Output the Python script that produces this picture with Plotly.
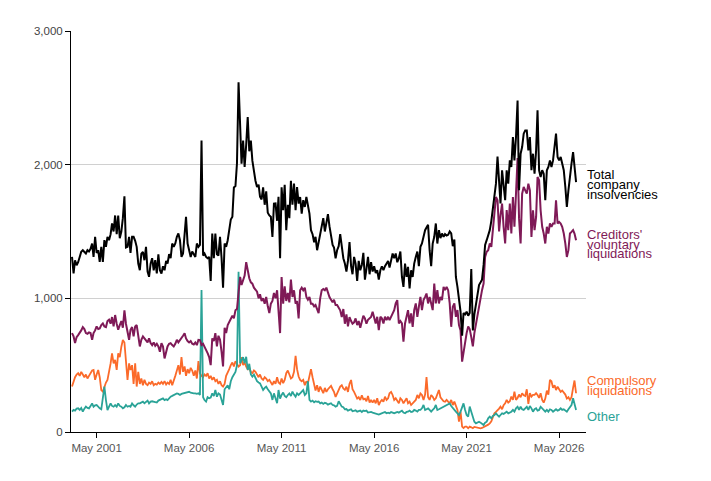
import pandas as pd
import plotly.graph_objects as go

# Monthly observations (categories)
months = pd.date_range("2000-01-01", periods=328, freq="MS")

total = [
    1310, 1186, 1285, 1248, 1270, 1310, 1348, 1360, 1348, 1335, 1360, 1350,
    1370, 1410, 1310, 1460, 1340, 1360, 1273, 1385, 1273, 1435, 1385, 1460,
    1435, 1480, 1560, 1500, 1620, 1480, 1620, 1450, 1500, 1600, 1763, 1380,
    1385, 1460, 1340, 1460, 1460, 1430, 1385, 1260, 1210, 1335, 1348, 1285,
    1385, 1200, 1161, 1260, 1300, 1210, 1285, 1186, 1330, 1210, 1186, 1240,
    1210, 1280, 1260, 1330, 1300, 1410, 1385, 1410, 1460, 1485, 1435, 1310,
    1335, 1460, 1610, 1410, 1360, 1310, 1350, 1330, 1310, 1410, 1385, 1400,
    2180, 1320, 1335, 1310, 1300, 1310, 1130, 1485, 1300, 1485, 1330, 1320,
    1460, 1300, 1080, 1410, 1385, 1435, 1510, 1590, 1610, 1830, 1840, 2010,
    2617, 2207, 2007, 2180, 1983, 2150, 2356, 2100, 2180, 2030, 1933, 1880,
    1833, 1850, 1760, 1740, 1830, 1700, 1800, 1640, 1620, 1610, 1460, 1709,
    1710, 1580, 1760, 1300, 1830, 1660, 1850, 1510, 1700, 1600, 1880, 1700,
    1858, 1659, 1833, 1709, 1758, 1634, 1734, 1684, 1758, 1709, 1634, 1510,
    1480, 1420, 1460, 1360, 1420, 1480, 1520, 1600, 1500, 1560, 1630, 1540,
    1470, 1400, 1380, 1300, 1360, 1390, 1480, 1380, 1300, 1260, 1200, 1280,
    1420, 1240, 1180, 1310, 1260, 1130, 1280, 1210, 1250, 1340, 1140, 1220,
    1310, 1180, 1270, 1200, 1240, 1190, 1210, 1140, 1210, 1240, 1210, 1240,
    1260, 1280, 1230, 1290, 1335, 1300, 1335, 1270, 1300, 1350, 1160, 1085,
    1260, 1160, 1235, 1075, 1210, 1160, 1260, 1310, 1350, 1240, 1385, 1410,
    1460, 1510, 1530, 1550, 1360, 1240, 1410, 1460, 1560, 1410, 1510, 1450,
    1485, 1460, 1480, 1470, 1475, 1500, 1485, 1390, 1440, 1160, 1085, 990,
    900, 720, 890, 880, 900, 870, 890, 1220, 760, 880, 950, 1020,
    1100, 1120, 1140, 1250, 1400, 1435, 1480, 1510, 1580, 1659, 1760, 1858,
    2060, 1883, 1709, 1958, 1833, 1734, 1958, 1858, 2032, 1983, 2207, 2032,
    2207, 2480, 1808, 2082, 2132, 2232, 2256, 2256, 2107, 2207, 1958, 2082,
    1933, 2107, 2406, 1958, 1908, 1958, 1933, 1734, 1958, 1983, 2032, 1983,
    2032, 2132, 2232, 2057, 2032, 2057, 2007, 1958, 1833, 1684, 1808, 1933,
    2007, 2094, 1958, 1870,
]

creditors_voluntary = [
    740, 715, 665, 710, 725, 740, 760, 785, 770, 740, 735, 745,
    740, 690, 740, 760, 790, 770, 775, 800, 812, 790, 785, 830,
    840, 810, 860, 790, 875, 810, 765, 800, 830, 780, 910, 810,
    740, 690, 765, 785, 715, 790, 800, 715, 640, 690, 715, 700,
    680, 670, 700, 665, 650, 670, 645, 660, 640, 600, 665, 640,
    550, 610, 640, 660, 665, 650, 640, 660, 690, 670, 690, 700,
    720, 738, 700, 680, 670, 680, 660, 655, 670, 650, 690, 688,
    650, 660, 640, 610, 590, 560, 500, 700, 680, 740, 640, 720,
    690, 600, 490, 780, 740, 800, 820, 840, 870, 850, 910, 920,
    1070, 1160, 1100, 1130, 1170, 1270, 1200, 1150, 1120, 1110, 1080, 1060,
    1050, 1000, 1030, 980, 1000, 960, 1010, 940, 890, 960, 980, 1040,
    1000, 1060, 910, 740, 1160, 960, 1090, 980, 1040, 970, 1140, 1010,
    1060, 960, 980, 850, 1060, 1080, 1060, 1080, 1010, 990, 1010, 960,
    960, 940, 950, 910, 890, 1000, 1060, 1070, 1060, 1080, 1040, 1010,
    990, 970, 990, 950, 950, 930, 910, 860, 920, 810, 880, 790,
    860, 830, 810, 820, 850, 800, 830, 780, 830, 870, 850, 810,
    840, 850, 860, 900, 862, 812, 862, 763, 862, 850, 812, 862,
    837, 862, 837, 862, 887, 912, 962, 987, 812, 830, 812, 675,
    812, 862, 912, 812, 887, 787, 912, 962, 862, 937, 1011, 912,
    987, 1011, 1036, 962, 1011, 962, 912, 1111, 962, 1061, 962, 1011,
    987, 1086, 1061, 1086, 1061, 962, 787, 937, 962, 862, 912, 800,
    760, 526, 600, 660, 740, 790, 770, 710, 640, 740, 810, 890,
    960, 1011, 1061, 1111, 1310, 1348, 1360, 1410, 1385, 1510, 1659, 1758,
    1734, 1500, 1620, 1709, 1535, 1410, 1660, 1510, 1709, 1485, 1758, 1535,
    1783, 2050, 1600, 1410, 1783, 1833, 1808, 1783, 1858, 1808, 1460, 1659,
    1510, 1609, 1908, 1883, 1659, 1535, 1485, 1410, 1535, 1485, 1560, 1535,
    1560, 1560, 1734, 1560, 1572, 1560, 1535, 1485, 1410, 1310, 1360, 1485,
    1497, 1510, 1485, 1435,
]

compulsory = [
    340, 380, 410, 430, 440, 420, 450, 430, 410, 430, 400, 420,
    440, 460, 464, 390, 430, 464, 410, 314, 302, 340, 370, 390,
    440, 513, 588, 513, 540, 464, 588, 560, 638, 688, 670, 513,
    389, 513, 464, 500, 360, 513, 340, 450, 360, 400, 350, 390,
    360, 350, 370, 360, 380, 350, 360, 355, 370, 360, 375, 360,
    380, 355, 370, 360, 390, 350, 380, 420, 460, 500, 430, 560,
    450, 490, 420, 470, 440, 480, 460, 420, 460, 400, 530, 440,
    420, 410, 430, 420, 440, 400, 420, 390, 410, 380, 390, 360,
    380, 350, 340, 360, 420, 440, 470, 500, 520, 490, 530, 510,
    490, 500, 560, 500, 520, 490, 470, 480, 450, 440, 460, 450,
    430, 410, 430, 400, 390, 410, 400, 380, 390, 370, 352, 380,
    360, 410, 370, 360, 400, 365, 390, 440, 460, 430, 400, 410,
    450, 570, 470, 415, 390, 380, 390, 350, 380, 365, 420, 470,
    410, 340, 310, 350, 300, 340, 315, 290, 330, 300, 320, 330,
    345, 320, 300, 262, 285, 314, 340, 350, 325, 315, 339, 300,
    360, 389, 320, 300, 270, 250, 260, 240, 275, 245, 250, 230,
    270, 220, 240, 220, 240, 215, 252, 202, 227, 240, 227, 264,
    240, 252, 290, 300, 277, 240, 252, 227, 215, 252, 240, 215,
    240, 252, 215, 227, 202, 215, 227, 240, 277, 252, 289, 277,
    240, 280, 411, 260, 240, 277, 264, 240, 252, 290, 314, 260,
    240, 230, 227, 240, 227, 215, 240, 202, 227, 190, 165, 77,
    152, 40, 30, 40, 40, 28, 40, 35, 28, 38, 35, 30,
    30, 28, 30, 35, 40, 45, 55, 65, 80, 110, 140, 150,
    160, 175, 190, 170, 200, 215, 240, 220, 230, 265, 240, 302,
    240, 255, 280, 260, 290, 275, 270, 320, 210, 290, 265, 277,
    277, 290, 277, 255, 290, 240, 220, 250, 310, 280, 390, 380,
    330, 350, 314, 339, 320, 300, 310, 295, 280, 250, 260, 240,
    260, 330, 385, 290,
]

other = [
    152, 165, 160, 175, 177, 165, 180, 152, 175, 190, 180, 177,
    195, 214, 189, 200, 202, 185, 177, 170, 250, 339, 239, 164,
    190, 214, 195, 189, 202, 190, 214, 195, 189, 177, 185, 202,
    189, 195, 189, 214, 200, 189, 205, 214, 214, 220, 227, 215,
    227, 235, 214, 227, 230, 227, 227, 220, 235, 239, 245, 252,
    239, 245, 239, 255, 264, 270, 277, 280, 289, 285, 277, 285,
    289, 292, 294, 296, 301, 294, 289, 289, 289, 285, 289, 277,
    1062, 260, 239, 227, 260, 252, 258, 289, 270, 314, 264, 289,
    280, 239, 202, 320, 339, 350, 320, 380, 410, 430, 450, 500,
    1199, 514, 538, 560, 514, 563, 464, 510, 430, 414, 430, 400,
    380, 370, 364, 339, 314, 330, 339, 320, 300, 289, 240, 289,
    252, 215, 314, 250, 277, 295, 270, 260, 277, 289, 270, 302,
    280, 264, 289, 277, 289, 300, 314, 277, 289, 380, 240, 227,
    235, 222, 230, 225, 228, 214, 220, 210, 218, 214, 205, 210,
    215, 202, 200, 190, 195, 230, 210, 190, 185, 170, 172, 160,
    165, 170, 155, 160, 162, 152, 158, 160, 150, 160, 157, 160,
    145, 147, 150, 145, 140, 140, 135, 130, 135, 140, 145, 150,
    140, 145, 140, 150, 145, 140, 145, 150, 145, 150, 160, 145,
    140, 150, 152, 160, 150, 152, 165, 160, 152, 165, 165, 177,
    202, 165, 170, 177, 165, 152, 165, 177, 202, 165, 170, 177,
    184, 189, 194, 202, 209, 214, 194, 177, 165, 152, 140, 127,
    152, 189, 214, 165, 127, 115, 190, 152, 102, 77, 65, 70,
    77, 70, 60, 52, 70, 77, 102, 115, 102, 120, 127, 140,
    127, 115, 127, 140, 135, 145, 152, 140, 145, 152, 165, 152,
    177, 189, 165, 189, 170, 165, 177, 189, 165, 194, 177, 152,
    170, 177, 160, 165, 189, 177, 165, 152, 165, 152, 170, 165,
    152, 165, 170, 160, 165, 177, 165, 170, 160, 152, 170, 189,
    202, 252, 214, 165,
]

tick_vals = ["2001-05-01", "2006-05-01", "2011-05-01", "2016-05-01", "2021-05-01", "2026-05-01"]
tick_text = ["May 2001", "May 2006", "May 2011", "May 2016", "May 2021", "May 2026"]
y_ticks = [0, 1000, 2000, 3000]
y_tick_text = ["0", "1,000", "2,000", "3,000"]

BLACK = "#000000"
PURPLE = "#7f1a57"
ORANGE = "#fb6a2a"
TEAL = "#2aa397"

fig = go.Figure()
fig.add_trace(go.Scatter(x=months, y=compulsory, mode="lines",
                         line=dict(color=ORANGE, width=1.8), name="Compulsory liquidations"))
fig.add_trace(go.Scatter(x=months, y=other, mode="lines",
                         line=dict(color=TEAL, width=1.8), name="Other"))
fig.add_trace(go.Scatter(x=months, y=creditors_voluntary, mode="lines",
                         line=dict(color=PURPLE, width=2), name="Creditors' voluntary liquidations"))
fig.add_trace(go.Scatter(x=months, y=total, mode="lines",
                         line=dict(color=BLACK, width=2), name="Total company insolvencies"))

PLOT_TOP, PLOT_BOTTOM = 31, 432
def py(pix):
    return (PLOT_BOTTOM - pix) / (PLOT_BOTTOM - PLOT_TOP)

labels = [
    ("Total", 174, BLACK), ("company", 184, BLACK), ("insolvencies", 194, BLACK),
    ("Creditors'", 234.5, PURPLE), ("voluntary", 244, PURPLE), ("liquidations", 253.5, PURPLE),
    ("Compulsory", 380.5, ORANGE), ("liquidations", 390.5, ORANGE),
    ("Other", 416, TEAL),
]
for txt, ypix, col in labels:
    fig.add_annotation(x=1, xref="paper", y=py(ypix), yref="paper", text=txt,
                       showarrow=False, xanchor="left", yanchor="middle", xshift=-1,
                       font=dict(family="Arial, Liberation Sans, sans-serif", size=13, color=col))

fig.update_layout(
    width=711, height=481,
    margin=dict(l=71, r=125, t=31, b=49),
    paper_bgcolor="white", plot_bgcolor="white",
    showlegend=False,
    font=dict(family="Arial, Liberation Sans, sans-serif", size=11.5, color="#555555"),
    xaxis=dict(
        type="date", range=["1999-12-12", "2027-10-14"],
        tickvals=tick_vals, ticktext=tick_text,
        showgrid=False, zeroline=False,
        showline=True, linecolor="#000000", linewidth=1,
        ticks="outside", ticklen=5, tickcolor="#000000", tickwidth=1,
        tickfont=dict(size=11.5, color="#555555"),
    ),
    yaxis=dict(
        range=[0, 3000], tickvals=y_ticks, ticktext=y_tick_text,
        showgrid=True, gridcolor="#d0d0d0", gridwidth=1, zeroline=False,
        showline=True, linecolor="#000000", linewidth=1,
        ticks="outside", ticklen=5, tickcolor="#000000", tickwidth=1,
        tickfont=dict(size=11.5, color="#444444"),
    ),
)

fig.write_html("out.html")
